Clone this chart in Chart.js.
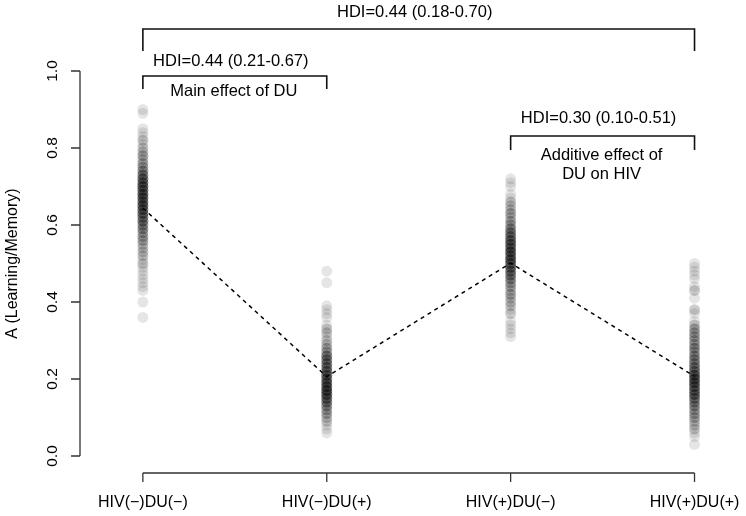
<!DOCTYPE html>
<html>
<head>
<meta charset="utf-8">
<script src="https://cdn.jsdelivr.net/npm/chart.js@4"></script>
<style>
  body { margin: 0; background: #fff; }
  canvas { display: block; }
</style>
</head>
<body>
<canvas id="abcChart" width="746" height="516"></canvas>
<script>
// groups on the x axis
const groups = ['HIV(\u2212)DU(\u2212)', 'HIV(\u2212)DU(+)', 'HIV(+)DU(\u2212)', 'HIV(+)DU(+)'];
const yTicks = [0.0, 0.2, 0.4, 0.6, 0.8, 1.0];

const g1Values = [0.90, 0.89, 0.85, 0.84, 0.83, 0.82, 0.81, 0.80, 0.79, 0.78, 0.77, 0.76, 0.75, 0.74, 0.73, 0.72, 0.71, 0.70, 0.69, 0.68, 0.67, 0.66, 0.65, 0.64, 0.63, 0.62, 0.61, 0.60, 0.59, 0.58, 0.57, 0.56, 0.55, 0.54, 0.53, 0.52, 0.51, 0.50, 0.49, 0.48, 0.47, 0.46, 0.45, 0.44, 0.43, 0.40, 0.36];
const g1Counts = [1, 1, 1, 1, 1, 2, 1, 2, 2, 3, 2, 3, 3, 4, 5, 6, 6, 7, 6, 7, 7, 6, 7, 6, 6, 5, 5, 4, 4, 3, 3, 3, 2, 2, 2, 2, 1, 2, 1, 1, 1, 1, 1, 1, 1, 1, 1];

const g2Values = [0.48, 0.45, 0.39, 0.38, 0.37, 0.36, 0.34, 0.33, 0.32, 0.31, 0.30, 0.29, 0.28, 0.27, 0.26, 0.25, 0.24, 0.23, 0.22, 0.21, 0.20, 0.19, 0.18, 0.17, 0.16, 0.15, 0.14, 0.13, 0.12, 0.11, 0.10, 0.09, 0.08, 0.07, 0.06];
const g2Counts = [1, 1, 1, 1, 1, 1, 1, 2, 2, 1, 2, 2, 3, 3, 5, 5, 5, 5, 6, 6, 6, 7, 7, 8, 7, 6, 5, 4, 3, 3, 2, 2, 1, 1, 1];

const g3Values = [0.72, 0.71, 0.70, 0.68, 0.67, 0.66, 0.65, 0.64, 0.63, 0.62, 0.61, 0.60, 0.59, 0.58, 0.57, 0.56, 0.55, 0.54, 0.53, 0.52, 0.51, 0.50, 0.49, 0.48, 0.47, 0.46, 0.45, 0.44, 0.43, 0.42, 0.41, 0.40, 0.39, 0.38, 0.37, 0.35, 0.34, 0.33, 0.32, 0.31];
const g3Counts = [1, 1, 1, 1, 1, 2, 2, 2, 3, 2, 3, 3, 4, 5, 5, 6, 6, 6, 7, 6, 7, 6, 6, 5, 5, 4, 3, 3, 2, 3, 2, 2, 2, 1, 2, 1, 1, 1, 1, 1];

const g4Values = [0.50, 0.49, 0.48, 0.47, 0.46, 0.44, 0.43, 0.41, 0.38, 0.37, 0.35, 0.34, 0.33, 0.32, 0.31, 0.30, 0.29, 0.28, 0.27, 0.26, 0.25, 0.24, 0.23, 0.22, 0.21, 0.20, 0.19, 0.18, 0.17, 0.16, 0.15, 0.14, 0.13, 0.12, 0.11, 0.10, 0.09, 0.08, 0.07, 0.06, 0.05, 0.03];
const g4Counts = [1, 1, 1, 1, 1, 1, 2, 1, 2, 1, 1, 2, 3, 3, 3, 3, 3, 4, 3, 4, 4, 4, 5, 5, 7, 7, 7, 6, 6, 6, 5, 4, 4, 3, 3, 3, 2, 2, 2, 1, 1, 1];

// group means joined by the dashed line
const groupMeans = [0.644, 0.206, 0.501, 0.207];

// comparison brackets
const bracketLabels = ['HDI=0.44 (0.18-0.70)', 'HDI=0.44 (0.21-0.67)', 'HDI=0.30 (0.10-0.51)'];
const bracketNotes = [[], ['Main effect of DU'], ['Additive effect of', 'DU on HIV']];
const bracketFrom = [1, 1, 3];
const bracketTo = [4, 2, 4];

const FONT = '"Liberation Sans", Arial, Helvetica, sans-serif';

function stripPoints(xPos, values, counts) {
    let pts = [];
    values.forEach((v, i) => {
        for (let k = 0; k < counts[i]; k++) pts.push({x: xPos, y: v});
    });
    return pts;
}

let stripData = [];
stripData = stripData.concat(stripPoints(1, g1Values, g1Counts));
stripData = stripData.concat(stripPoints(2, g2Values, g2Counts));
stripData = stripData.concat(stripPoints(3, g3Values, g3Counts));
stripData = stripData.concat(stripPoints(4, g4Values, g4Counts));

// R style axes and the brackets on top
const rAxes = {
    id: 'rAxes',
    afterDraw(chart) {
        const ctx = chart.ctx;
        const xs = chart.scales.x, ys = chart.scales.y;
        ctx.save();
        ctx.strokeStyle = '#333';
        ctx.fillStyle = '#000';
        ctx.lineWidth = 1.3;

        // y axis
        const axX = 80;
        ctx.beginPath();
        ctx.moveTo(axX, ys.getPixelForValue(yTicks[0]));
        ctx.lineTo(axX, ys.getPixelForValue(yTicks[yTicks.length - 1]));
        yTicks.forEach(t => {
            const py = ys.getPixelForValue(t);
            ctx.moveTo(axX, py);
            ctx.lineTo(axX - 9, py);
        });
        ctx.stroke();
        ctx.font = '15.5px ' + FONT;
        ctx.textAlign = 'center';
        ctx.textBaseline = 'middle';
        yTicks.forEach(t => {
            const py = ys.getPixelForValue(t);
            ctx.save();
            ctx.translate(53, py);
            ctx.rotate(-Math.PI / 2);
            ctx.fillText(t.toFixed(1), 0, 0);
            ctx.restore();
        });
        ctx.save();
        ctx.font = '16px ' + FONT;
        ctx.translate(13, (ys.getPixelForValue(0) + ys.getPixelForValue(1)) / 2);
        ctx.rotate(-Math.PI / 2);
        ctx.fillText('A (Learning/Memory)', 0, 0);
        ctx.restore();

        // x axis
        const axY = 473;
        ctx.beginPath();
        ctx.moveTo(xs.getPixelForValue(1), axY);
        ctx.lineTo(xs.getPixelForValue(groups.length), axY);
        groups.forEach((g, i) => {
            const px = xs.getPixelForValue(i + 1);
            ctx.moveTo(px, axY);
            ctx.lineTo(px, axY + 9);
        });
        ctx.stroke();
        ctx.font = '16px ' + FONT;
        groups.forEach((g, i) => {
            ctx.fillText(g, xs.getPixelForValue(i + 1), 503);
        });

        // brackets: line level, leg end, label y, first note y
        const levels = [[29, 51, 12, 0], [76, 89, 61, 91], [136, 150, 118, 155]];
        ctx.strokeStyle = '#111';
        ctx.lineWidth = 1.6;
        ctx.font = '16.5px ' + FONT;
        bracketLabels.forEach((lab, i) => {
            const x1 = xs.getPixelForValue(bracketFrom[i]);
            const x2 = xs.getPixelForValue(bracketTo[i]);
            const lv = levels[i];
            ctx.beginPath();
            ctx.moveTo(x1, lv[1]);
            ctx.lineTo(x1, lv[0]);
            ctx.lineTo(x2, lv[0]);
            ctx.lineTo(x2, lv[1]);
            ctx.stroke();
            const mid = (x1 + x2) / 2;
            ctx.fillText(lab, mid - 4, lv[2]);
            bracketNotes[i].forEach((n, j) => {
                ctx.fillText(n, mid - 1, lv[3] + j * 19);
            });
        });
        ctx.restore();
    }
};

new Chart(document.getElementById('abcChart'), {
    type: 'scatter',
    data: {
        datasets: [{
            data: stripData,
            backgroundColor: 'rgba(0,0,0,0.1)',
            borderWidth: 0,
            pointRadius: 5.5,
            pointHoverRadius: 5.5
        }, {
            type: 'line',
            data: groupMeans.map((m, i) => ({x: i + 1, y: m})),
            borderColor: '#000',
            borderWidth: 1.5,
            borderDash: [4, 4],
            pointRadius: 0,
            fill: false
        }]
    },
    options: {
        responsive: false,
        animation: false,
        events: [],
        layout: {
            padding: {left: 96.9, right: 3.9, top: 55.6, bottom: 44.6}
        },
        plugins: {
            legend: {display: false},
            tooltip: {enabled: false}
        },
        scales: {
            x: {type: 'linear', min: 0.75, max: 4.25, display: false},
            y: {type: 'linear', min: -0.04, max: 1.04, display: false}
        }
    },
    plugins: [rAxes]
});
</script>
</body>
</html>
